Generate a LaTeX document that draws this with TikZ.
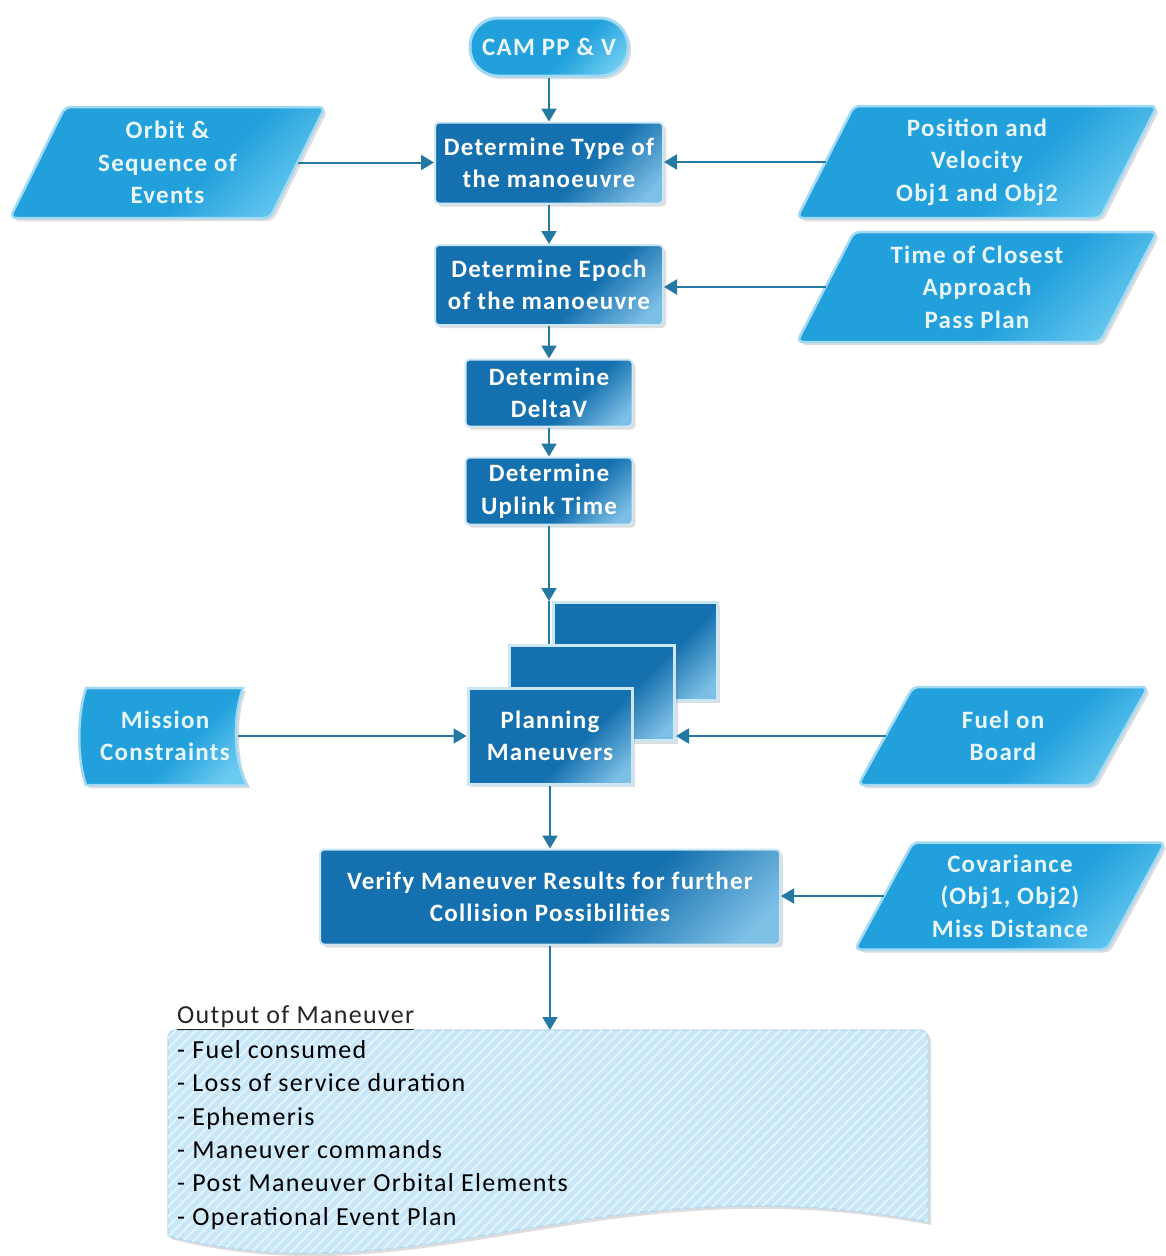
\documentclass[tikz,border=0pt]{standalone}
\usepackage{fontspec}
\setmainfont{Carlito}[LetterSpace=5]
\usetikzlibrary{arrows.meta,shadows,patterns.meta}
\definecolor{dkA}{HTML}{1470AE}
\definecolor{dkB}{HTML}{7DBFE5}
\definecolor{ltA}{HTML}{21A0DC}
\definecolor{ltB}{HTML}{6ACAF0}
\definecolor{connc}{HTML}{2479A3}
\definecolor{ltedge}{HTML}{A3DAF3}
\definecolor{dkedge}{HTML}{CBE6F5}
\definecolor{ltext}{HTML}{E9F7FD}
\definecolor{docblue}{HTML}{C8E7F9}
\definecolor{docstripe}{HTML}{E4F4FD}
\definecolor{docedge}{HTML}{B9DAEE}
\pgfdeclarehorizontalshading{darkgrad}{100bp}{color(0bp)=(dkA); color(60bp)=(dkA); color(80bp)=(dkB); color(100bp)=(dkB)}
\pgfdeclarehorizontalshading{lightgrad}{100bp}{color(0bp)=(ltA); color(58bp)=(ltA); color(78bp)=(ltB); color(100bp)=(ltB)}
\tikzset{
  shad/.style={drop shadow={opacity=0.22,shadow xshift=3pt,shadow yshift=-3pt,fill=black!60}},
  darkbox/.style={shading=darkgrad, shading angle=-45, draw=dkedge, line width=2pt,
    rounded corners=4pt, text=white, font=\bfseries\fontsize{25}{32.5}\selectfont,
    align=center, shad, inner sep=2pt},
  stackbox/.style={shading=darkgrad, shading angle=-45, draw=dkedge, line width=3pt, shad},
  lightshape/.style={shading=lightgrad, shading angle=-45, draw=ltedge, line width=2.5pt,
    rounded corners=6pt, shad},
  lighttext/.style={text=ltext, font=\bfseries\fontsize{25}{32.5}\selectfont, align=center, inner sep=1pt},
  conn/.style={draw=connc, line width=2pt, -{Triangle[length=13pt,width=15pt]}},
  plainline/.style={draw=connc, line width=2pt},
}
\newcommand{\parabox}[7]{%
  \path[lightshape] (#2-#4/2+#6, #3-#5/2) -- (#2+#4/2, #3-#5/2) -- (#2+#4/2-#6, #3+#5/2) -- (#2-#4/2, #3+#5/2) -- cycle;
  \node[lighttext] (#1) at (#2,#3) {#7};
  \coordinate (#1-l) at (#2-#4/2+#6/2, #3);
  \coordinate (#1-r) at (#2+#4/2-#6/2, #3);
}
\begin{document}
\begin{tikzpicture}[x=1pt,y=-1pt]
\useasboundingbox[fill=white] (0,0) rectangle (1166,1256);

% start node
\node[shading=lightgrad, shading angle=-45, draw=ltedge, line width=3pt, rounded corners=28pt,
  minimum width=158pt, minimum height=58pt, text=ltext, font=\bfseries\fontsize{25}{32.5}\selectfont, shad]
  (cam) at (549,47) {CAM PP \& V};

% main column
\node[darkbox, minimum width=228pt, minimum height=81pt] (b1) at (549,163) {Determine Type of\\the manoeuvre};
\node[darkbox, minimum width=228pt, minimum height=80pt] (b2) at (549,285) {Determine Epoch\\of the manoeuvre};
\node[darkbox, minimum width=167pt, minimum height=67pt] (b3) at (549,393) {Determine\\DeltaV};
\node[darkbox, minimum width=167pt, minimum height=67pt] (b4) at (549,491) {Determine\\Uplink Time};

% stacked planning boxes
\node[stackbox, minimum width=164pt, minimum height=98pt] (plan3) at (635,651) {};
\node[stackbox, minimum width=165pt, minimum height=95pt] (plan2) at (592,693) {};
\node[stackbox, minimum width=164pt, minimum height=96pt, text=white,
  font=\bfseries\fontsize{25}{32.5}\selectfont, align=center] (plan) at (550,736) {Planning\\Maneuvers};

\node[darkbox, minimum width=460pt, minimum height=95pt] (ver) at (550,897) {Verify Maneuver Results for further\\Collision Possibilities};

% input parallelograms
\parabox{orbit}{167.5}{162.5}{315}{111}{55}{Orbit \&\\Sequence of\\Events}
\parabox{posvel}{977}{162}{360}{112}{57}{Position and\\Velocity\\Obj1 and Obj2}
\parabox{tca}{977}{287}{360}{110}{57}{Time of Closest\\Approach\\Pass Plan}
\parabox{fuel}{1003}{736}{290}{98}{55}{Fuel on\\Board}
\parabox{cov}{1010}{896}{310}{107}{58}{Covariance\\(Obj1, Obj2)\\Miss Distance}

% mission constraints (stored data shape)
\path[lightshape, rounded corners=0pt] (86,688) -- (243,688) .. controls (233,715) and (233,760) .. (247,785)
  -- (86,785) .. controls (77,760) and (77,715) .. (86,688) -- cycle;
\node[lighttext] (mis) at (165,736) {Mission\\Constraints};
\coordinate (mis-r) at (238,736);

% output document
\path[fill=docblue, draw=docedge, line width=1.5pt, shad] (928,1222) .. controls (600,1160) and (420,1300) .. (168,1236)
  [rounded corners=8pt] -- (168,1030) -- (928,1030) [sharp corners] -- cycle;
\path[pattern={Lines[angle=45,distance=7pt,line width=2pt]}, pattern color=docstripe]
  (928,1222) .. controls (600,1160) and (420,1300) .. (168,1236)
  [rounded corners=8pt] -- (168,1030) -- (928,1030) [sharp corners] -- cycle;
\coordinate (outtop) at (550,1030);
\node[anchor=west, text=black!85, font=\fontsize{26}{32}\selectfont, inner sep=0pt] (outttl) at (177,1018)
  {\underline{Output of Maneuver}};
\node[anchor=north west, align=left, text=black, font=\fontsize{26}{33.4}\selectfont, inner sep=0pt]
  (outlist) at (177,1040)
  {- Fuel consumed\\- Loss of service duration\\- Ephemeris\\- Maneuver commands\\- Post Maneuver Orbital Elements\\- Operational Event Plan};

% connectors
\draw[conn] (cam.south) -- (b1.north);
\draw[conn] (orbit-r) -- (orbit-r -| b1.west);
\draw[conn] (posvel-l) -- (posvel-l -| b1.east);
\draw[conn] (b1.south) -- (b2.north);
\draw[conn] (tca-l) -- (tca-l -| b2.east);
\draw[conn] (b2.south) -- (b3.north);
\draw[conn] (b3.south) -- (b4.north);
\coordinate (stk) at (549,601);
\draw[conn] (b4.south) -- (stk);
\draw[plainline] (stk) -- (stk |- plan2.north);
\draw[conn] (mis-r) -- (mis-r -| plan.west);
\draw[conn] (fuel-l) -- (fuel-l -| plan2.east);
\draw[conn] (plan.south) -- (ver.north);
\draw[conn] (cov-l) -- (cov-l -| ver.east);
\draw[conn] (ver.south) -- (outtop);
\end{tikzpicture}
\end{document}
